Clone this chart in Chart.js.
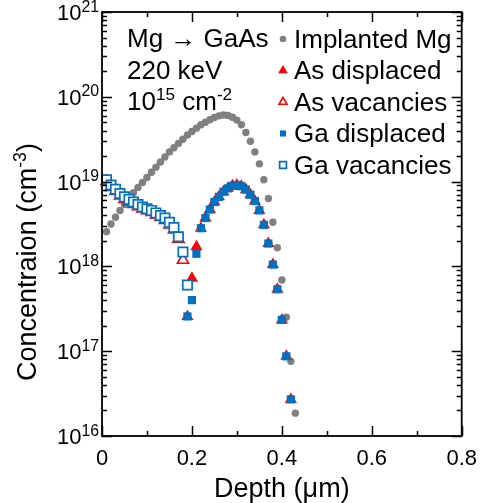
<!DOCTYPE html>
<html><head><meta charset="utf-8">
<script src="https://cdn.jsdelivr.net/npm/chart.js@4/dist/chart.umd.min.js"></script>
<style>html,body{margin:0;padding:0;background:#fff;}canvas{display:block;}</style>
</head><body>
<canvas id="c" width="487" height="503"></canvas>
<script>
// ---------------- data ----------------
const mgDepth = [0.01,0.02,0.03,0.04,0.05,0.06,0.07,0.08,0.09,0.10,0.11,0.12,0.13,0.14,0.15,0.16,0.17,0.18,0.19,0.20,0.21,0.22,0.23,0.24,0.25,0.26,0.27,0.28,0.29,0.30,0.31,0.32,0.33,0.34,0.35,0.36,0.37,0.38,0.39,0.40,0.41,0.42,0.43];
const mgConc = [2.57e18,3.16e18,3.80e18,4.57e18,5.37e18,6.31e18,7.41e18,8.51e18,9.77e18,1.12e19,1.29e19,1.48e19,1.70e19,1.95e19,2.24e19,2.51e19,2.82e19,3.16e19,3.55e19,3.89e19,4.27e19,4.68e19,5.01e19,5.37e19,5.69e19,5.96e19,6.10e19,6.03e19,5.75e19,5.31e19,4.68e19,3.80e19,2.99e19,2.24e19,1.62e19,1.05e19,6.31e18,3.31e18,1.66e18,6.92e17,2.51e17,7.59e16,1.86e16];

const gaVacDepth = [0.01,0.02,0.03,0.04,0.05,0.06,0.07,0.08,0.09,0.10,0.11,0.12,0.13,0.14,0.15,0.16,0.17,0.18,0.19];
const gaVac = [1.05e19,9.12e18,8.13e18,7.24e18,6.61e18,6.17e18,5.75e18,5.37e18,5.01e18,4.79e18,4.57e18,4.27e18,3.98e18,3.72e18,3.31e18,2.88e18,2.24e18,1.48e18,6.03e17];

const asVacDepth = [0.01,0.02,0.03,0.04,0.05,0.06,0.07,0.08,0.09,0.10,0.11,0.12,0.13,0.14,0.15,0.16,0.17,0.18];
const asVac = [1.0e19,8.6e18,7.7e18,6.8e18,6.2e18,5.8e18,5.4e18,5.1e18,4.8e18,4.55e18,4.35e18,4.05e18,3.8e18,3.5e18,3.1e18,2.7e18,2.1e18,1.19e18];

const dispDepth = [0.19,0.20,0.21,0.22,0.23,0.24,0.25,0.26,0.27,0.28,0.29,0.30,0.31,0.32,0.33,0.34,0.35,0.36,0.37,0.38,0.39,0.40,0.41,0.42];
const asDisp = [2.57e17,7.24e17,1.70e18,2.82e18,3.72e18,4.68e18,5.75e18,6.61e18,7.59e18,8.32e18,8.91e18,9.12e18,8.81e18,8.04e18,7.00e18,5.89e18,4.57e18,3.09e18,1.86e18,1.05e18,5.37e17,2.34e17,8.7e16,2.7e16];
const gaDisp = [2.57e17,4.0e17,1.41e18,2.82e18,3.72e18,4.68e18,5.75e18,6.61e18,7.59e18,8.32e18,8.91e18,9.12e18,8.81e18,8.04e18,7.00e18,5.89e18,4.57e18,3.09e18,1.86e18,1.05e18,5.37e17,2.34e17,8.7e16,2.7e16];

const xTickLabels = ['0','0.2','0.4','0.6','0.8'];
const yTickExponents = [16,17,18,19,20,21];
const yMinorMultipliers = [2,3,4,5,6,7,8,9];

const seriesLabels = ['Implanted Mg','As displaced','As vacancies','Ga displaced','Ga vacancies'];
const annotationLines = [
  [['Mg \u2192 GaAs', false]],
  [['220 keV', false]],
  [['10', false], ['15', true], [' cm', false], ['-2', true]]
];
const xTitle = 'Depth (\u03bcm)';
const yTitle = [['Concentraion (cm', false], ['-3', true], [')', false]];

// ---------------- styles ----------------
const FONT = '"Liberation Sans", Arial, Helvetica, sans-serif';
const GRAY = '#808080', RED = '#FF0000', BLUE = '#0070C0';

const zip = (xs, ys) => xs.map((x, i) => ({x, y: ys[i]}));

const yTickValues = [];
yTickExponents.forEach((e, i) => {
  yTickValues.push(Math.pow(10, e));
  if (i < yTickExponents.length - 1) yMinorMultipliers.forEach(m => yTickValues.push(m * Math.pow(10, e)));
});
const yMajor = new Set(yTickExponents.map(e => Math.pow(10, e)));

function drawRich(ctx, parts, x, y, size, align, supRatio) {
  const supSize = size * (supRatio || 0.68);
  let w = 0;
  parts.forEach(([t, sup]) => { ctx.font = (sup ? supSize : size) + 'px ' + FONT; w += ctx.measureText(t).width; });
  let cx = align === 'right' ? x - w : (align === 'center' ? x - w / 2 : x);
  ctx.textBaseline = 'alphabetic';
  ctx.textAlign = 'left';
  parts.forEach(([t, sup]) => {
    ctx.font = (sup ? supSize : size) + 'px ' + FONT;
    ctx.fillText(t, cx, sup ? y - size * 0.38 : y);
    cx += ctx.measureText(t).width;
  });
}

const decor = {
  id: 'decor',
  afterDraw(chart) {
    const {ctx, chartArea: a, scales: {x, y}} = chart;
    ctx.save();
    ctx.strokeStyle = '#000';
    ctx.fillStyle = '#000';
    ctx.lineWidth = 1.5;
    ctx.beginPath();
    x.ticks.forEach((t, i) => {
      const px = Math.round(x.getPixelForValue(t.value)) + 0.5;
      const len = i % 2 === 0 ? 10 : 5;
      ctx.moveTo(px, a.bottom); ctx.lineTo(px, a.bottom - len);
      ctx.moveTo(px, a.top); ctx.lineTo(px, a.top + len);
    });
    y.ticks.forEach(t => {
      const py = Math.round(y.getPixelForValue(t.value)) + 0.5;
      const len = yMajor.has(t.value) ? 10 : 5;
      ctx.moveTo(a.left, py); ctx.lineTo(a.left + len, py);
      ctx.moveTo(a.right, py); ctx.lineTo(a.right - len, py);
    });
    ctx.stroke();
    ctx.lineWidth = 1.8;
    ctx.strokeRect(a.left, a.top, a.right - a.left, a.bottom - a.top);

    // y tick labels
    yTickExponents.forEach(e => {
      const py = y.getPixelForValue(Math.pow(10, e));
      drawRich(ctx, [['10', false], [String(e), true]], a.left - 3, py + 8, 22, 'right', 0.72);
    });

    // x title
    ctx.font = '27px ' + FONT;
    ctx.textAlign = 'center';
    ctx.textBaseline = 'alphabetic';
    ctx.fillText(xTitle, (a.left + a.right) / 2, 497);

    // y title (rotated)
    ctx.save();
    ctx.translate(36, 262);
    ctx.rotate(-Math.PI / 2);
    drawRich(ctx, yTitle, 0, 0, 27, 'center', 0.66);
    ctx.restore();

    // annotation (left)
    annotationLines.forEach((parts, i) => {
      drawRich(ctx, parts, 127, 47 + i * 31.5, 26, 'left', 0.66);
    });

    // legend (right)
    const legendR = {'Implanted Mg': 3.3, 'As displaced': 5.6, 'As vacancies': 4.6, 'Ga displaced': 4.3, 'Ga vacancies': 4.8};
    seriesLabels.forEach((lab, i) => {
      const ds = chart.data.datasets.find(d => d.label === lab);
      const cy = 38 + i * 31.5;
      ctx.save();
      ctx.fillStyle = ds.backgroundColor;
      ctx.strokeStyle = ds.borderColor || ds.backgroundColor;
      ctx.lineWidth = ds.borderWidth || 0;
      Chart.helpers.drawPoint(ctx, {pointStyle: ds.pointStyle, rotation: 0, radius: legendR[lab], borderWidth: ds.borderWidth || 0}, 283, cy + 1);
      ctx.restore();
      ctx.fillStyle = '#000';
      ctx.font = '26px ' + FONT;
      ctx.textAlign = 'left';
      ctx.textBaseline = 'alphabetic';
      ctx.fillText(lab, 294, cy + 9.5);
    });
    ctx.restore();
  }
};

new Chart(document.getElementById('c'), {
  type: 'scatter',
  data: {
    datasets: [
      {label: seriesLabels[4], data: zip(gaVacDepth, gaVac), pointStyle: 'rect', pointRadius: 6.6, backgroundColor: '#FFFFFF', borderColor: BLUE, borderWidth: 1.7, order: 0, clip: false},
      {label: seriesLabels[3], data: zip(dispDepth, gaDisp), pointStyle: 'rect', pointRadius: 5.8, backgroundColor: BLUE, borderColor: BLUE, borderWidth: 0, order: 1, clip: false},
      {label: seriesLabels[2], data: zip(asVacDepth, asVac), pointStyle: 'triangle', pointRadius: 6.4, backgroundColor: '#FFFFFF', borderColor: RED, borderWidth: 1.6, order: 2, clip: false},
      {label: seriesLabels[1], data: zip(dispDepth, asDisp), pointStyle: 'triangle', pointRadius: 7, backgroundColor: RED, borderColor: RED, borderWidth: 0, order: 3, clip: false},
      {label: seriesLabels[0], data: zip(mgDepth, mgConc), pointStyle: 'circle', pointRadius: 3.7, backgroundColor: GRAY, borderColor: GRAY, borderWidth: 0, order: 4, clip: false}
    ]
  },
  options: {
    responsive: false,
    animation: false,
    devicePixelRatio: 1,
    layout: {padding: {top: 12, right: 24, left: 0, bottom: 0}},
    plugins: {legend: {display: false}, tooltip: {enabled: false}},
    elements: {point: {hoverRadius: 0}},
    scales: {
      x: {
        type: 'linear', min: 0, max: 0.8,
        ticks: {
          stepSize: 0.1, autoSkip: false, maxRotation: 0, padding: 10,
          color: '#000', font: {family: FONT, size: 22},
          callback: (v, i) => (i % 2 === 0 ? xTickLabels[i / 2] : '')
        },
        grid: {display: false, drawTicks: false},
        border: {display: false},
        afterFit: s => { s.height = 67; }
      },
      y: {
        type: 'logarithmic', min: 1e16, max: 1e21,
        ticks: {display: false, autoSkip: false},
        grid: {display: false, drawTicks: false},
        border: {display: false},
        afterFit: s => { s.width = 102; },
        afterBuildTicks: s => { s.ticks = yTickValues.map(v => ({value: v, major: yMajor.has(v)})); }
      }
    }
  },
  plugins: [decor]
});
</script>
</body></html>
